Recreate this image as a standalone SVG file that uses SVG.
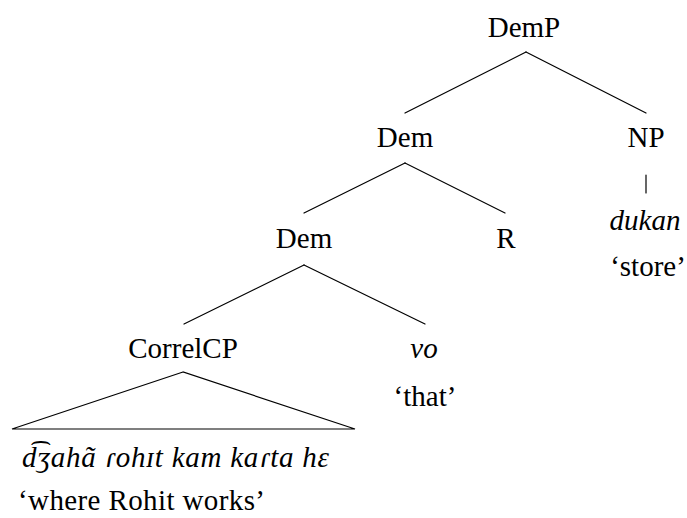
<svg xmlns="http://www.w3.org/2000/svg" width="687" height="518" viewBox="0 0 687 518">
<style>
text{font-family:"Liberation Serif","DejaVu Serif",serif;font-size:29px;fill:#000}
.c{text-anchor:middle}
.i{font-style:italic}
.e line,.e polygon{stroke:#000;stroke-width:1.2;fill:none;stroke-linecap:round}
</style>
<rect width="687" height="518" fill="#fff"/>
<g id="connectors" class="e">
<line x1="526" y1="52" x2="405" y2="113"/>
<line x1="526" y1="52" x2="646" y2="113"/>
<line x1="405" y1="163" x2="304" y2="213"/>
<line x1="405" y1="163" x2="505" y2="213"/>
<line x1="646" y1="175" x2="646" y2="193"/>
<line x1="304" y1="265" x2="184" y2="324"/>
<line x1="304" y1="265" x2="425" y2="324"/>
<polygon points="183,372 12,429 355,429"/>
</g>
<g id="DemP"><text class="c" x="524" y="37">DemP</text></g>
<g id="Dem1"><text class="c" x="405" y="147">Dem</text></g>
<g id="NP"><text class="c" x="646" y="147">NP</text></g>
<g id="dukan"><text class="c i" x="645" y="230">dukan</text><text class="c" x="648" y="276">‘store’</text></g>
<g id="Dem2"><text class="c" x="304" y="248">Dem</text></g>
<g id="R"><text class="c" x="506" y="248">R</text></g>
<g id="CorrelCP"><text class="c" x="183" y="358">CorrelCP</text></g>
<g id="vo"><text class="c i" x="424" y="358">vo</text><text class="c" x="425" y="406">‘that’</text></g>
<g id="clause"><text class="i" x="22" y="467" textLength="307">d͡ʒahã ɾohɪt kam kaɾta hɛ</text><text x="18" y="510" textLength="247">‘where Rohit works’</text></g>
</svg>
